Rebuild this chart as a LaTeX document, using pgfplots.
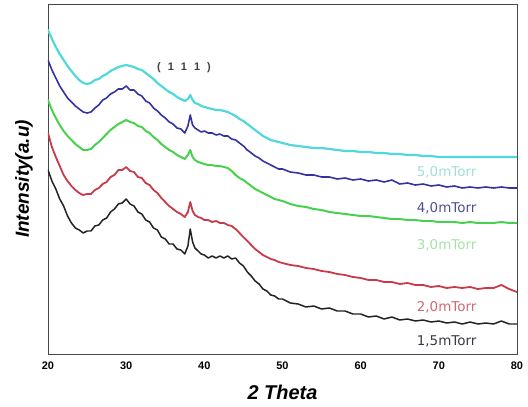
\documentclass[border=0pt]{standalone}
\usepackage{fontspec}
\setmainfont{Liberation Sans}
\newfontfamily\dejavu{DejaVu Sans}
\usepackage{pgfplots}
\pgfplotsset{compat=1.18}

\definecolor{cCyan}{RGB}{80,216,218}
\definecolor{cBlue}{RGB}{50,50,160}
\definecolor{cGreen}{RGB}{70,210,78}
\definecolor{cRed}{RGB}{200,58,72}
\definecolor{cBlack}{RGB}{34,34,34}
\definecolor{lCyan}{RGB}{160,222,224}
\definecolor{lBlue}{RGB}{78,78,150}
\definecolor{lGreen}{RGB}{164,226,166}
\definecolor{lRed}{RGB}{206,104,116}
\definecolor{lBlack}{RGB}{56,56,70}

\begin{document}
\begin{tikzpicture}
\begin{axis}[
  scale only axis,
  width=469bp, height=350bp,
  xmin=20, xmax=80, ymin=0, ymax=350,
  xtick={20,30,...,80}, ytick=\empty,
  major tick length=0pt,
  axis line style={black!72, line width=1pt},
  /pgf/number format/assume math mode=true,
  xticklabel style={font=\fontsize{11}{12}\selectfont\bfseries, yshift=-4bp},
  xlabel={2 Theta},
  xlabel style={font=\fontsize{20}{22}\selectfont\bfseries\itshape,
                at={(axis description cs:0.5,-0.111)}, anchor=center},
  ylabel={Intensity(a.u)},
  ylabel style={font=\fontsize{19}{21}\selectfont\bfseries\itshape,
                at={(axis description cs:-0.051,0.5)}, anchor=center},
  every axis plot/.append style={line join=round, line cap=round},
  clip=true,
]
% 1.5 mTorr
\addplot[cBlack, line width=1.5pt] coordinates {
(20,184)(20.5,173)(21,165)(21.5,155)(22,148)(22.5,138)(23,131)(23.5,126)(24,124)(24.5,121)
(25,123)(25.5,123)(26,128)(26.5,129)(27,134)(27.5,136)(28,142)(28.5,145)(29,150)(29.5,151)
(30,155)(30.5,150)(31,148)(31.5,142)(32,140)(32.5,134)(33,132)(33.5,126)(34,124)(34.5,117)
(35,115)(35.5,110)(36,110)(36.5,105)(37,104)(37.5,100)(37.9,108)(38.2,125)(38.5,112)(38.8,106)
(39.2,103)(39.6,100)(40,99)(40.5,96)(41,98)(41.5,96)(42,98)(42.5,96)(43,98)(43.5,95)
(44,96)(44.5,91)(45,88)(45.5,82)(46,78)(46.5,73)(47,70)(47.5,65)(48,63)(48.5,59)
(49,58)(49.5,55)(50,55)(51,51)(52,50)(53,47)(54,48)(55,45)(56,46)(57,43)(58,43)(59,40)
(60,40)(61,37)(62,38)(63,35)(64,37)(65,34)(66,35)(67,33)(68,34)(69,32)(70,33)(71,31)
(72,32)(73,30)(74,32)(75,30)(76,31)(77,30)(78,33)(79,30)(80,30)};
% 2.0 mTorr
\addplot[cRed, line width=1.8pt] coordinates {
(20,221)(20.5,207)(21,197)(21.5,188)(22,179)(22.5,173)(23,168)(23.5,164)(24,161)(24.5,159)
(25,160)(25.5,160)(26,164)(26.5,166)(27,170)(27.5,172)(28,177)(28.5,179)(29,184)(29.5,184)
(30,187)(30.5,183)(31,182)(31.5,177)(32,176)(32.5,171)(33,169)(33.5,164)(34,161)(34.5,156)
(35,152)(35.5,148)(36,145)(36.5,142)(37,140)(37.5,137)(37.9,142)(38.2,152)(38.5,143)(38.8,139)
(39.2,137)(39.6,136)(40,134)(40.5,134)(41,132)(41.5,133)(42,131)(42.5,131)(43,129)(43.5,128)
(44,125)(44.5,121)(45,117)(45.5,113)(46,109)(46.5,105)(47,102)(47.5,99)(48,97)(48.5,95)
(49,94)(49.5,92)(50,91)(51,89)(52,88)(53,86)(54,85)(55,83)(56,82)(57,80)(58,79)(59,77)
(60,76)(61,74)(62,74)(63,72)(64,72)(65,70)(66,71)(67,69)(68,69)(69,67)(70,68)(71,66)
(72,67)(73,66)(74,67)(75,65)(76,66)(77,66)(78,69)(79,65)(80,62)};
% 3.0 mTorr
\addplot[cGreen, line width=2pt] coordinates {
(20,254)(20.5,244)(21,236)(21.5,229)(22,223)(22.5,218)(23,214)(23.5,210)(24,207)(24.5,204)
(25,204)(25.5,205)(26,209)(26.5,212)(27,216)(27.5,220)(28,224)(28.5,227)(29,230)(29.5,232)
(30,234)(30.5,232)(31,231)(31.5,228)(32,227)(32.5,223)(33,221)(33.5,217)(34,214)(34.5,210)
(35,207)(35.5,204)(36,202)(36.5,199)(37,197)(37.5,195)(37.9,199)(38.2,204)(38.5,197)(38.8,194)
(39.2,192)(39.6,191)(40,190)(40.5,189)(41,189)(41.5,188)(42,188)(42.5,187)(43,186)(43.5,183)
(44,179)(44.5,176)(45,174)(45.5,171)(46,168)(46.5,165)(47,163)(47.5,161)(48,159)(48.5,157)
(49,155)(49.5,154)(50,153)(51,150)(52,148)(53,147)(54,145)(55,144)(56,142)(57,141)(58,140)
(59,139)(60,138)(61,138)(62,137)(63,136)(64,135)(65,135)(66,134)(67,134)(68,133)(69,133)
(70,132)(71,132)(72,132)(73,131)(74,132)(75,131)(76,131)(77,131)(78,132)(79,131)(80,131)};
% 4.0 mTorr
\addplot[cBlue, line width=1.6pt] coordinates {
(20,294)(20.5,284)(21,276)(21.5,268)(22,262)(22.5,256)(23,252)(23.5,248)(24,245)(24.5,242)
(25,241)(25.5,242)(26,246)(26.5,249)(27,254)(27.5,256)(28,260)(28.5,262)(29,265)(29.5,265)
(30,268)(30.5,264)(31,264)(31.5,260)(32,258)(32.5,253)(33,251)(33.5,246)(34,243)(34.5,239)
(35,236)(35.5,232)(36,230)(36.5,226)(37,225)(37.5,221)(37.9,228)(38.2,239)(38.5,229)(38.8,226)
(39.2,224)(39.6,222)(40,223)(40.5,221)(41,221)(41.5,219)(42,220)(42.5,218)(43,218)(43.5,215)
(44,214)(44.5,211)(45,208)(45.5,204)(46,201)(46.5,198)(47,196)(47.5,193)(48,191)(48.5,189)
(49,187)(49.5,185)(50,185)(51,182)(52,181)(53,179)(54,179)(55,177)(56,177)(57,175)(58,176)
(59,174)(60,175)(61,173)(62,174)(63,172)(64,174)(65,170)(66,171)(67,169)(68,170)(69,168)
(70,169)(71,167)(72,168)(73,166)(74,167)(75,166)(76,167)(77,166)(78,167)(79,166)(80,166)};
% 5.0 mTorr
\addplot[cCyan, line width=2.2pt] coordinates {
(20,324)(20.5,315)(21,307)(21.5,300)(22,294)(22.5,288)(23,283)(23.5,278)(24,274)(24.5,271)
(25,270)(25.5,271)(26,274)(26.5,275)(27,278)(27.5,280)(28,283)(28.5,285)(29,287)(29.5,288)
(30,289)(30.5,288)(31,287)(31.5,285)(32,284)(32.5,281)(33,278)(33.5,275)(34,271)(34.5,268)
(35,265)(35.5,262)(36,260)(36.5,257)(37,255)(37.5,253)(37.9,255)(38.2,259)(38.5,254)(38.8,251)
(39.2,250)(39.6,248)(40,247)(40.5,246)(41,245)(41.5,244)(42,244)(42.5,243)(43,242)(43.5,240)
(44,238)(44.5,235)(45,233)(45.5,230)(46,227)(46.5,224)(47,221)(47.5,218)(48,216)(48.5,214)
(49,213)(49.5,212)(50,211)(51,209)(52,208)(53,207)(54,206)(55,206)(56,205)(57,204)(58,203)
(59,203)(60,202)(61,202)(62,201)(63,201)(64,200)(65,200)(66,199)(67,199)(68,198)(69,198)
(70,197)(71,197)(72,197)(73,197)(74,197)(75,197)(76,197)(77,197)(78,197)(79,197)(80,197)};

% series labels
\begin{scope}[every node/.style={font=\dejavu\fontsize{13.5}{14}\selectfont, anchor=center}]
\node[text=lCyan]  at (axis cs:71,182) {5,0mTorr};
\node[text=lBlue]  at (axis cs:71,146) {4,0mTorr};
\node[text=lGreen] at (axis cs:71,109) {3,0mTorr};
\node[text=lRed]   at (axis cs:71,47)  {2,0mTorr};
\node[text=lBlack] at (axis cs:71,13)  {1,5mTorr};
\end{scope}
\node[font=\fontsize{11}{12}\selectfont\bfseries, text=black!75, anchor=center]
  at (axis cs:37.4,286) {(\hspace{7bp}1\hspace{7bp}1\hspace{7bp}1\hspace{7bp})};
\end{axis}
\pgfresetboundingbox
\path ([shift={(-48bp,-53bp)}]current axis.south west)
  rectangle ([shift={(11bp,4bp)}]current axis.north east);
\end{tikzpicture}
\end{document}
